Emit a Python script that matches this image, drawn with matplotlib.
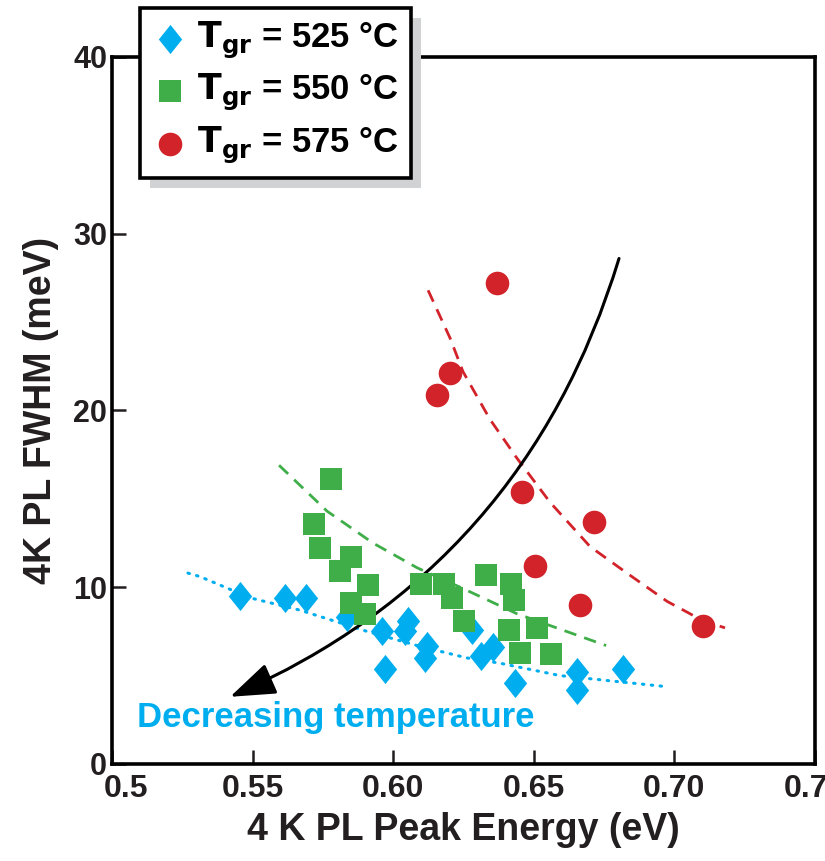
import numpy as np
import matplotlib
matplotlib.use("Agg")
import matplotlib.pyplot as plt
import matplotlib.transforms as mtransforms
from matplotlib.patches import Rectangle, FancyArrowPatch

# data
e525 = [0.5455, 0.5615, 0.5690, 0.5836, 0.5960, 0.5971, 0.6053, 0.6042, 0.6120,
        0.6113, 0.6280, 0.6312, 0.6355, 0.6433, 0.6654, 0.6654, 0.6817]
w525 = [9.5, 9.4, 9.4, 8.3, 7.5, 5.4, 8.1, 7.5, 6.7,
        6.0, 7.6, 6.1, 6.6, 4.6, 5.2, 4.2, 5.4]

e550 = [0.578, 0.572, 0.574, 0.585, 0.581, 0.591, 0.585, 0.590, 0.610, 0.618,
        0.621, 0.625, 0.633, 0.642, 0.643, 0.641, 0.651, 0.645, 0.656]
w550 = [16.1, 13.6, 12.2, 11.7, 10.9, 10.1, 9.1, 8.5, 10.2, 10.2,
        9.4, 8.1, 10.7, 10.2, 9.3, 7.6, 7.7, 6.3, 6.2]

e575 = [0.6369, 0.6156, 0.6202, 0.6458, 0.6504, 0.6714, 0.6664, 0.7102]
w575 = [27.2, 20.9, 22.1, 15.4, 11.2, 13.7, 9.0, 7.8]

# trend curves
fit525_x = [0.5270, 0.5313, 0.5491, 0.5669, 0.5907, 0.6085, 0.6262, 0.6380, 0.6593, 0.6956]
fit525_y = [10.8, 10.6, 9.4, 8.7, 7.5, 6.7, 6.0, 5.7, 5.0, 4.4]
fit550_x = [0.5594, 0.5765, 0.5928, 0.6085, 0.6238, 0.6440, 0.6757]
fit550_y = [16.9, 14.3, 12.5, 11.1, 10.0, 8.5, 6.7]
fit575_x = [0.6124, 0.6202, 0.6248, 0.6344, 0.6440, 0.6558, 0.6700, 0.6831, 0.6974, 0.7102, 0.7180]
fit575_y = [26.8, 24.1, 22.2, 19.5, 17.3, 14.8, 12.3, 10.8, 9.2, 8.1, 7.7]

# curved arrow: start and tip
arrow_start = (0.6803, 28.6)
arrow_tip = (0.5420, 3.8)

xticks = [0.5, 0.55, 0.60, 0.65, 0.70, 0.75]
xticklabels = ["0.5", "0.55", "0.60", "0.65", "0.70", "0.75"]
yticks = [0, 10, 20, 30, 40]

blue = "#00AEEF"
green = "#3FAE49"
red = "#D2232A"
ink = "#231f20"

diamond = [(0, 1), (0.8, 0), (0, -1), (-0.8, 0), (0, 1)]

fig = plt.figure(figsize=(8.25, 8.61), dpi=100)
ax = fig.add_axes([0.1358, 0.1127, 0.8521, 0.8211])

ax.plot(fit525_x, fit525_y, color=blue, lw=2.2, ls=(0, (0.5, 2.4)), dash_capstyle="round")
ax.plot(fit550_x, fit550_y, color=green, lw=2, ls=(0, (4.5, 3)))
ax.plot(fit575_x, fit575_y, color=red, lw=2, ls=(0, (4.5, 3)))

ax.add_patch(FancyArrowPatch(arrow_start, arrow_tip,
                             connectionstyle="arc3,rad=-0.23",
                             arrowstyle="-|>,head_length=1.4,head_width=0.5",
                             mutation_scale=20, color="black", lw=2.2,
                             shrinkA=0, shrinkB=0, zorder=2))

ax.scatter(e525, w525, marker=diamond, s=21**2, color=blue, lw=0, zorder=3)
ax.scatter(e550, w550, marker="s", s=16.5**2, color=green, lw=0, zorder=3)
ax.scatter(e575, w575, marker="o", s=17**2, color=red, lw=0, zorder=3)

ax.text(0.509, 2.65, "Decreasing temperature", color=blue, fontsize=25,
        fontweight="bold", family="Liberation Sans", va="center", ha="left")

ax.set_xlim(0.5, 0.75)
ax.set_ylim(0, 40)
ax.set_xticks(xticks)
ax.set_xticklabels(xticklabels, family="Liberation Sans", fontweight="bold", fontsize=23)
ax.set_yticks(yticks)
ax.set_yticklabels([str(v) for v in yticks], family="Liberation Sans",
                   fontweight="bold", fontsize=22)
ax.tick_params(direction="in", length=10, width=1.8, top=False, right=False,
               colors=ink)
ax.tick_params(axis="x", pad=7)
# first x label sits a bit right of its tick in the original
lab0 = ax.get_xticklabels()[0]
lab0.set_transform(lab0.get_transform() +
                   mtransforms.ScaledTranslation(14 / 100, 0, fig.dpi_scale_trans))
for s in ax.spines.values():
    s.set_linewidth(2.6)
ax.set_xlabel("4 K PL Peak Energy (eV)", family="Liberation Sans", fontweight="bold",
              fontsize=27, labelpad=6, color=ink)
ax.set_ylabel("4K PL FWHM (meV)", family="Liberation Sans", fontweight="bold",
              fontsize=27, labelpad=10, color=ink)

h1 = ax.scatter([], [], marker=diamond, s=21**2, color=blue, lw=0)
h2 = ax.scatter([], [], marker="s", s=16.5**2, color=green, lw=0)
h3 = ax.scatter([], [], marker="o", s=17**2, color=red, lw=0)
leg = fig.legend([h1, h2, h3],
                 [r"$\mathbf{T_{gr}}$ = 525 °C", r"$\mathbf{T_{gr}}$ = 550 °C",
                  r"$\mathbf{T_{gr}}$ = 575 °C"],
                 loc="upper left", bbox_to_anchor=(140 / 825, 1 - 8 / 861),
                 borderaxespad=0, fancybox=False, framealpha=1, edgecolor="black",
                 prop={"family": "Liberation Sans", "weight": "bold", "size": 25},
                 handletextpad=0.3, labelspacing=0.32, borderpad=0.35,
                 handlelength=1.0, scatterpoints=1)
leg.get_frame().set_linewidth(2.6)
leg.set_zorder(5)

fig.canvas.draw()
bb = leg.get_window_extent()
fig.patches.append(Rectangle((bb.x0 + 10, bb.y0 - 10), bb.width, bb.height,
                             transform=None, facecolor="#d1d2d4", edgecolor="none",
                             zorder=4, figure=fig))

fig.savefig("out.png", dpi=100)
